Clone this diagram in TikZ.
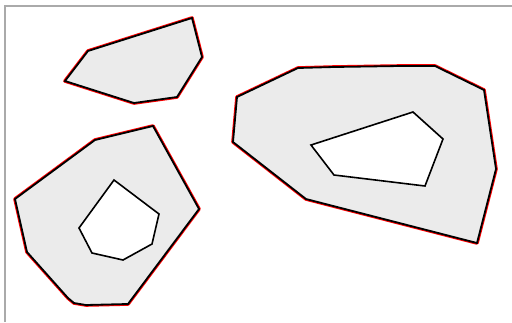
\documentclass[tikz,border=0pt]{standalone}
\begin{document}
\begin{tikzpicture}[x=1pt,y=-1pt,
  redline/.style={draw=red,line width=3.6pt,line join=round},
  region/.style={fill=regfill,even odd rule},
  blackline/.style={draw=black,line width=1.8pt,line join=miter},
  holeline/.style={draw=black,line width=1.6pt,line join=miter},
  frameline/.style={draw=framegray,line width=1.6pt}]
\definecolor{regfill}{HTML}{EBEBEB}
\definecolor{framegray}{HTML}{AAAAAA}
\useasboundingbox (0,0) rectangle (512,322);
\fill[white] (0,0) rectangle (512,322);
% frame
\coordinate (f1) at (5,322);
\coordinate (f2) at (5,6);
\coordinate (f3) at (512,6);
\draw[frameline] (f1) -- (f2) -- (f3);
% polygon A
\def\polyA{(192,18) -- (202,57) -- (177,97) -- (134,103) -- (65,81) -- (88,51) -- cycle}
\path[redline] \polyA;
\path[region] \polyA;
\path[blackline] \polyA;
% polygon B
\def\polyB{(237,97) -- (298,68) -- (334,67) -- (400,66) -- (435,66) -- (484,90) -- (496,169) -- (477,243) -- (306,199) -- (233,142) -- cycle}
\def\holeB{(413,112) -- (443,139) -- (425,186) -- (334,175) -- (311,145) -- cycle}
\path[redline] \polyB;
\path[region] \polyB \holeB;
\path[blackline] \polyB;
\path[holeline] \holeB;
% polygon C
\def\polyC{(153,126) -- (199,209) -- (128,304) -- (86,305) -- (74,303) -- (68,298) -- (27,252) -- (15,199) -- (95,140) -- cycle}
\def\holeC{(114,180) -- (159,214) -- (152,244) -- (123,260) -- (92,253) -- (79,228) -- cycle}
\path[redline] \polyC;
\path[region] \polyC \holeC;
\path[blackline] \polyC;
\path[holeline] \holeC;
\end{tikzpicture}
\end{document}
